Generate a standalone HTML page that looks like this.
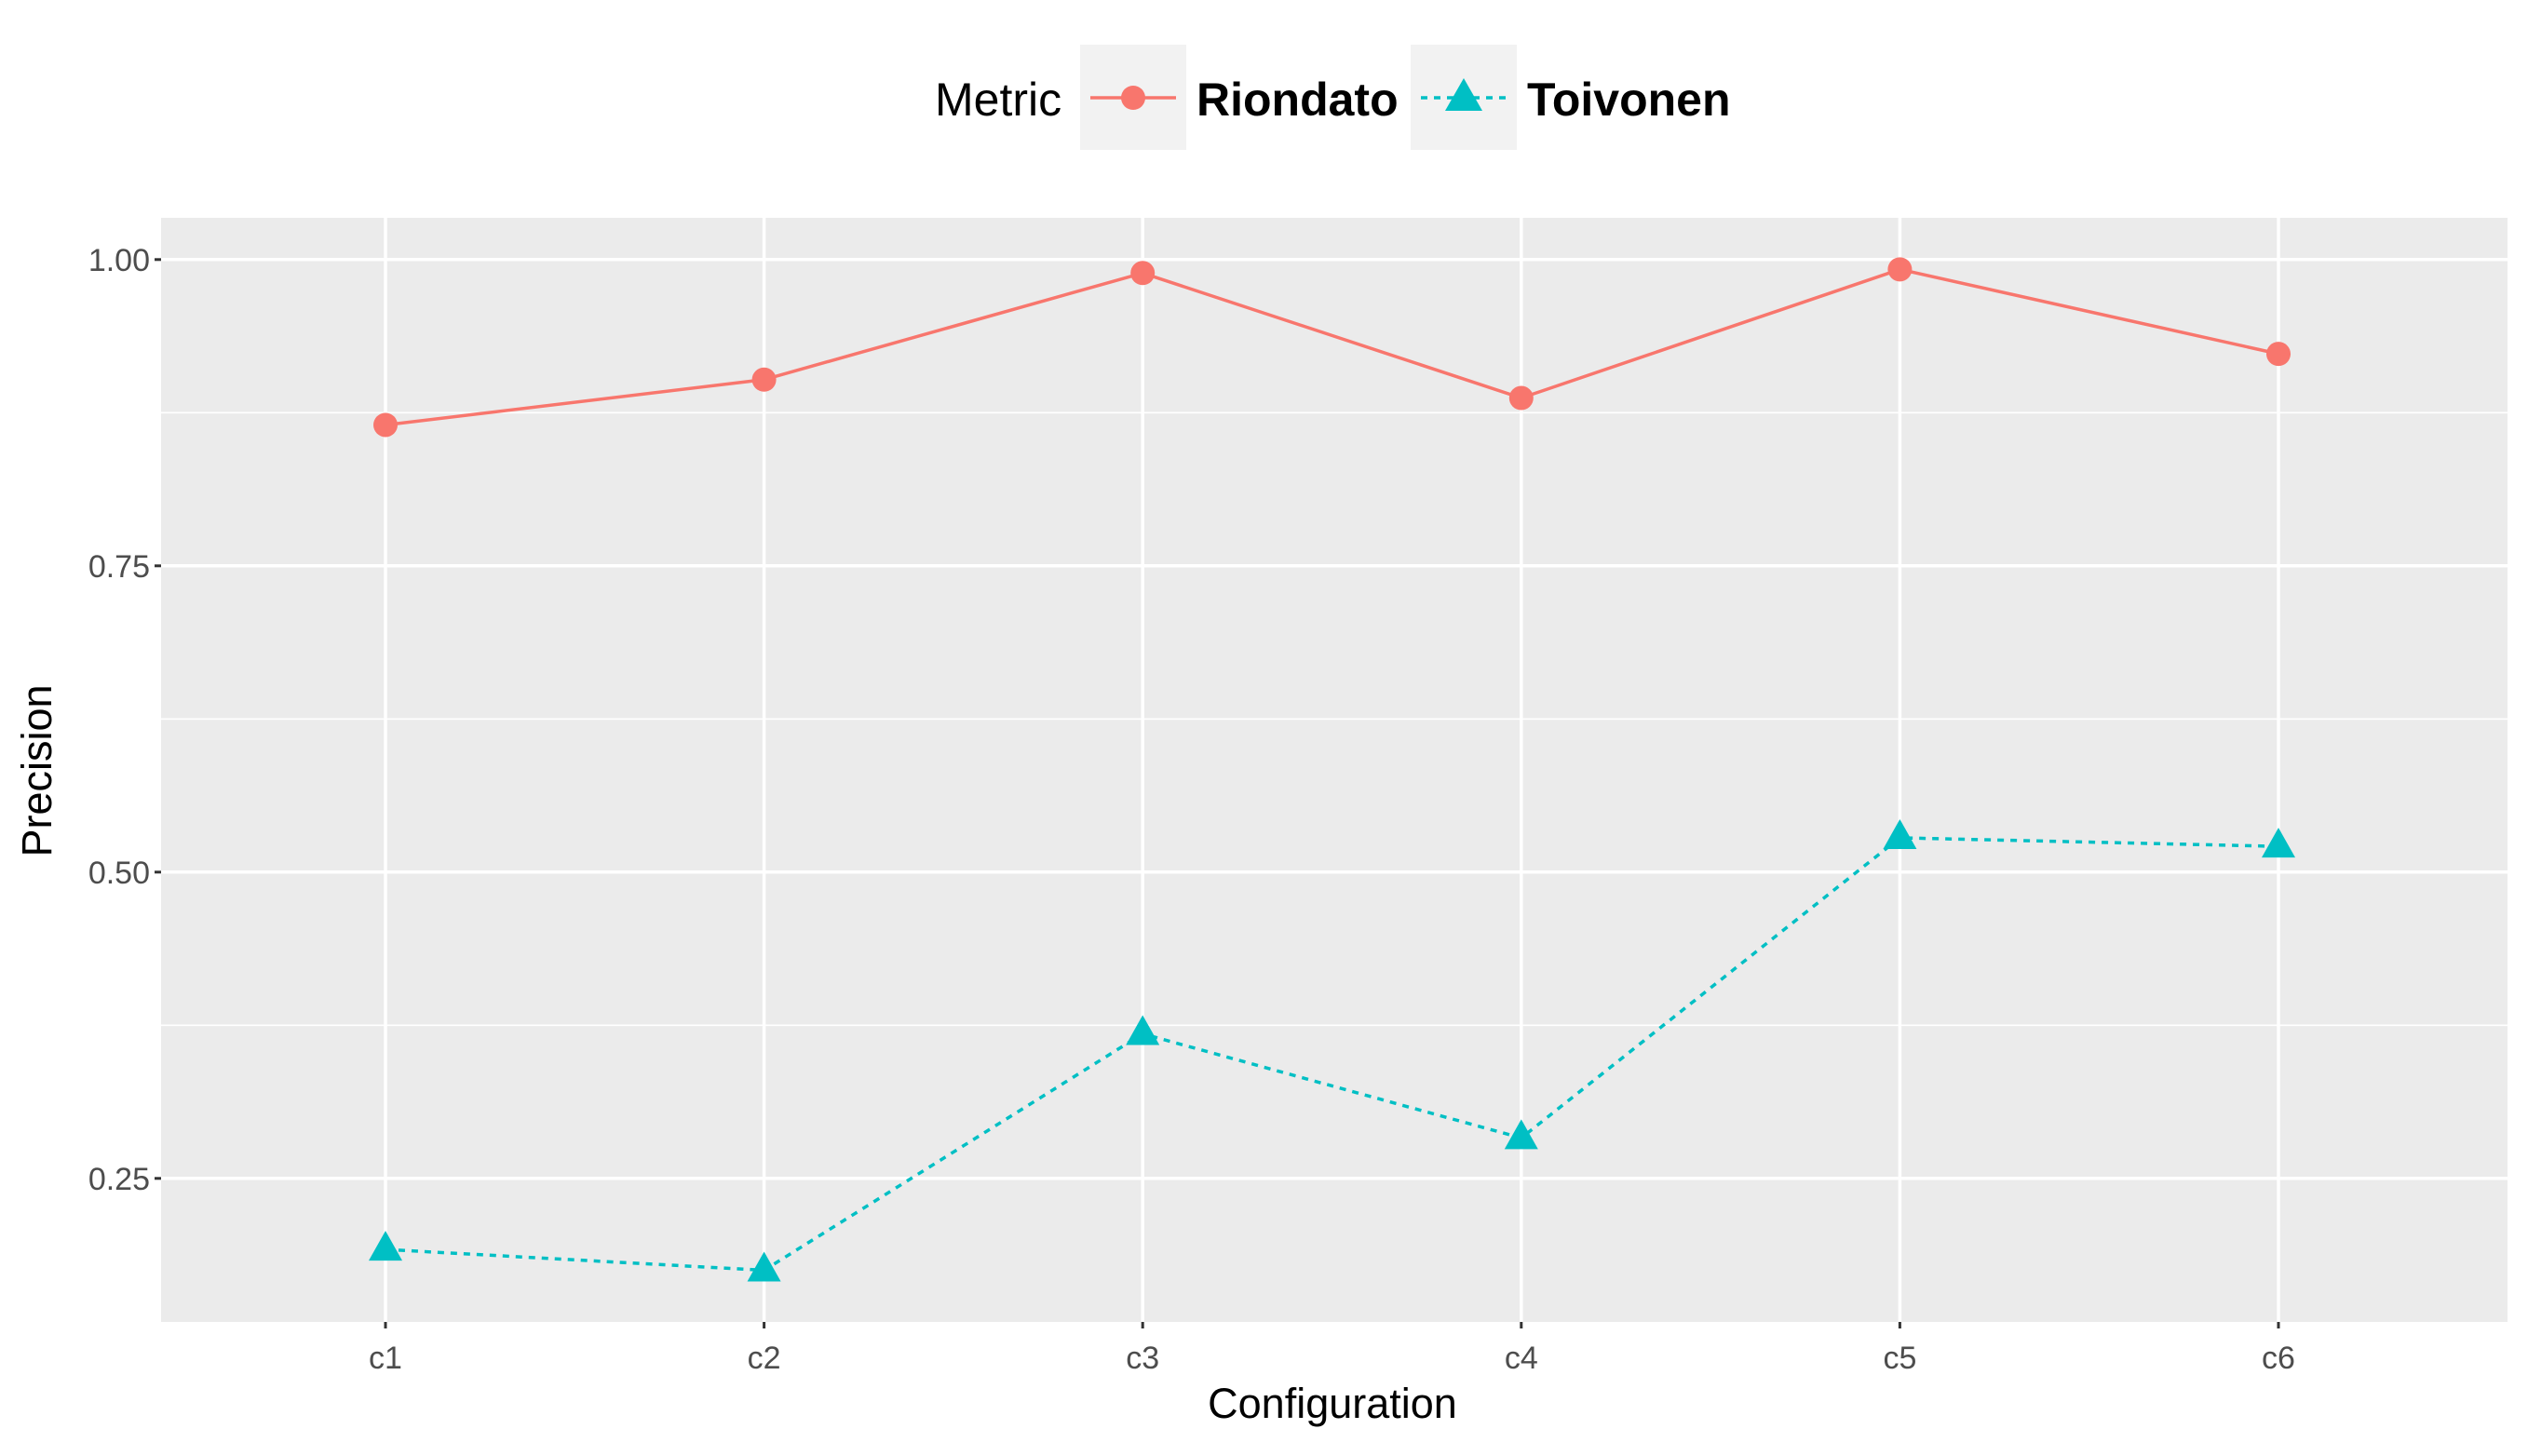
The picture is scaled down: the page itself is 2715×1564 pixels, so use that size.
<!DOCTYPE html>
<html><head><meta charset="utf-8"><style>
html,body{margin:0;padding:0;background:#fff;}
svg text{font-family:"Liberation Sans",sans-serif;}
</style></head><body>
<svg id="chart" width="2715" height="1559" viewBox="0 0 2715 1559" xmlns="http://www.w3.org/2000/svg">
<rect width="2715" height="1559" fill="#fff"/>
<g id="legend">
  <text x="1004" y="124" font-size="50" fill="#000">Metric</text>
  <g>
    <rect x="1160" y="48" width="114" height="113" fill="#f2f2f2"/>
    <line x1="1171" y1="105" x2="1263" y2="105" stroke="#f8766d" stroke-width="3.5"/>
    <circle cx="1217" cy="105" r="13" fill="#f8766d"/>
    <text x="1285" y="124" font-size="50" font-weight="bold" fill="#000">Riondato</text>
  </g>
  <g>
    <rect x="1515" y="48" width="114" height="113" fill="#f2f2f2"/>
    <line x1="1526" y1="105" x2="1618" y2="105" stroke="#00bfc4" stroke-width="3.5" stroke-dasharray="7,7"/>
    <polygon points="1572,84 1592,119 1552,119" fill="#00bfc4"/>
    <text x="1640" y="124" font-size="50" font-weight="bold" fill="#000">Toivonen</text>
  </g>
</g>
<rect x="173" y="234" width="2520" height="1186" fill="#ebebeb"/>
<g id="grid"></g>
<g id="axes"></g>
<g id="series"></g>
<text x="1431" y="1523" font-size="45" text-anchor="middle" fill="#000">Configuration</text>
<text transform="translate(55,828) rotate(-90)" font-size="45" text-anchor="middle" fill="#000">Precision</text>
</svg>
<script>
const categories = ["c1","c2","c3","c4","c5","c6"];
const riondato = [0.865, 0.902, 0.989, 0.887, 0.992, 0.923];
const toivonen = [0.192, 0.175, 0.368, 0.283, 0.528, 0.521];
const yTicks = [0.25, 0.50, 0.75, 1.00];
const yTickLabels = ["0.25","0.50","0.75","1.00"];
const yMinor = [0.375, 0.625, 0.875];

const NS = "http://www.w3.org/2000/svg";
const px0 = 173, px1 = 2693, py0 = 234, py1 = 1420;
function yScale(v){ return 278.8 + (1 - v) * 1316; }
function xScale(i){ return 414 + i * (2447 - 414) / (categories.length - 1); }
function mk(tag, attrs, parent){ const e = document.createElementNS(NS, tag); for (const k in attrs) e.setAttribute(k, attrs[k]); parent.appendChild(e); return e; }

const grid = document.getElementById('grid'), axes = document.getElementById('axes'), series = document.getElementById('series');
yMinor.forEach(v => {
  const l = mk('line', {x1:px0, x2:px1, y1:yScale(v), y2:yScale(v), stroke:'#fff', 'stroke-width':1.7}, grid);
  
  
});
yTicks.forEach((v, i) => {
  const y = yScale(v);
  const l = mk('line', {x1:px0, x2:px1, y1:y, y2:y, stroke:'#fff', 'stroke-width':3.5}, grid);
  
  
  mk('line', {x1:px0-7, x2:px0, y1:y, y2:y, stroke:'#333', 'stroke-width':3}, axes);
  const t = mk('text', {x:px0-12, y:y+12, 'font-size':34, 'text-anchor':'end', fill:'#4d4d4d'}, axes);
  t.textContent = yTickLabels[i];
  
  
});
categories.forEach((c, i) => {
  const x = xScale(i);
  const l = mk('line', {x1:x, x2:x, y1:py0, y2:py1, stroke:'#fff', 'stroke-width':3.5}, grid);
  
  
  mk('line', {x1:x, x2:x, y1:py1, y2:py1+7, stroke:'#333', 'stroke-width':3}, axes);
  const t = mk('text', {x:x, y:py1+50, 'font-size':34, 'text-anchor':'middle', fill:'#4d4d4d'}, axes);
  t.textContent = c;
  
  
});
function drawLine(vals, color, dash, name){
  const pts = vals.map((v, i) => xScale(i) + ',' + yScale(v)).join(' ');
  const p = mk('polyline', {points:pts, fill:'none', stroke:color, 'stroke-width':3.5}, series);
  if (dash) p.setAttribute('stroke-dasharray', dash);
  
  
}
drawLine(riondato, '#f8766d', null, 'riondato-line');
drawLine(toivonen, '#00bfc4', '7,7', 'toivonen-line');
riondato.forEach((v, i) => {
  const c = mk('circle', {cx:xScale(i), cy:yScale(v), r:13, fill:'#f8766d'}, series);
  
  
});
toivonen.forEach((v, i) => {
  const x = xScale(i), y = yScale(v);
  const p = mk('polygon', {points:`${x},${y-20} ${x+18},${y+12} ${x-18},${y+12}`, fill:'#00bfc4'}, series);
  
  
});
</script>
</body></html>
